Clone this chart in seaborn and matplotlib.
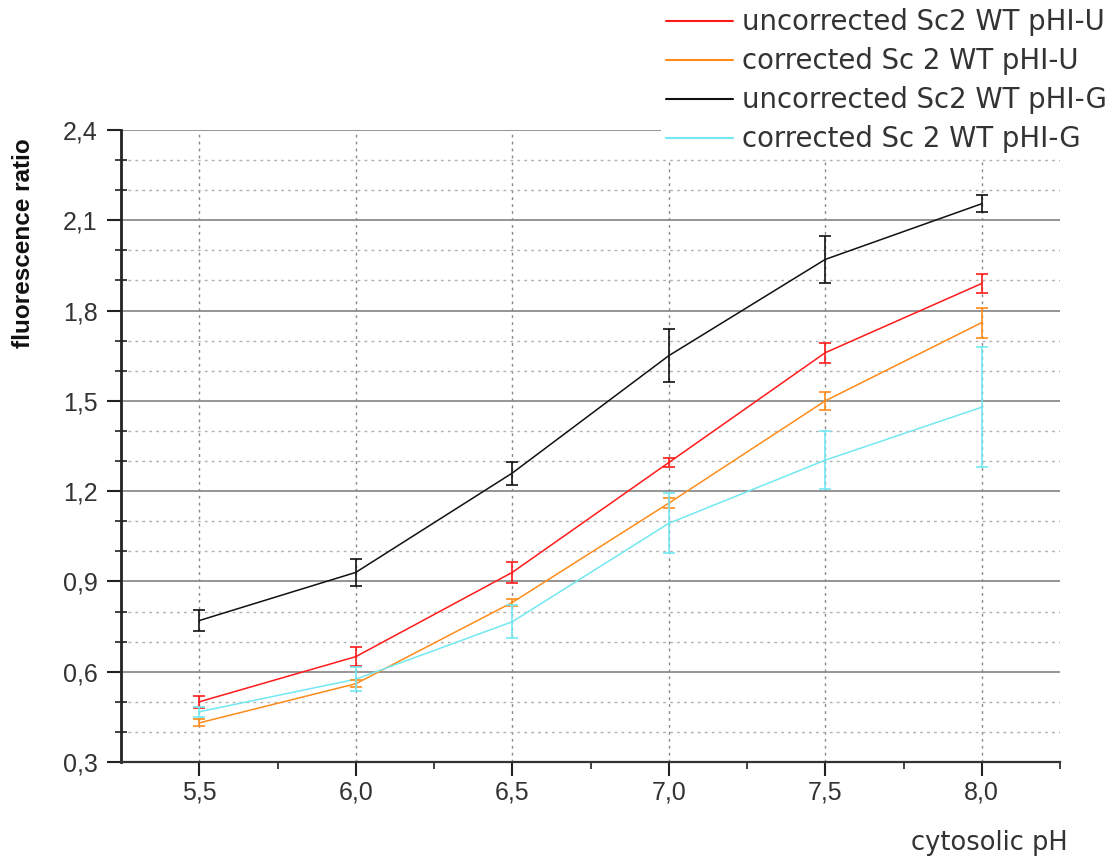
import numpy as np
import pandas as pd
import matplotlib
matplotlib.use("Agg")
import matplotlib.pyplot as plt
from matplotlib.ticker import MultipleLocator, FixedLocator, FuncFormatter
import seaborn as sns

# Calibration data: fluorescence ratio vs. cytosolic pH
ph = [5.5, 6.0, 6.5, 7.0, 7.5, 8.0]

uncorr_u = [0.50, 0.65, 0.93, 1.295, 1.66, 1.89]
uncorr_u_err = [0.020, 0.032, 0.034, 0.016, 0.033, 0.030]

corr_u = [0.43, 0.56, 0.83, 1.16, 1.50, 1.76]
corr_u_err = [0.012, 0.011, 0.011, 0.017, 0.030, 0.050]

uncorr_g = [0.77, 0.93, 1.26, 1.65, 1.97, 2.155]
uncorr_g_err = [0.034, 0.044, 0.038, 0.089, 0.078, 0.028]

corr_g = [0.467, 0.575, 0.766, 1.093, 1.303, 1.479]
corr_g_err = [0.017, 0.040, 0.055, 0.100, 0.097, 0.200]

labels = [
    "uncorrected Sc2 WT pHI-U",
    "corrected Sc 2 WT pHI-U",
    "uncorrected Sc2 WT pHI-G",
    "corrected Sc 2 WT pHI-G",
]
colors = ["#ff1a1a", "#ff8c1a", "#111111", "#72e8f2"]

series = [
    (uncorr_u, uncorr_u_err),
    (corr_u, corr_u_err),
    (uncorr_g, uncorr_g_err),
    (corr_g, corr_g_err),
]

frames = []
for lab, (vals, errs) in zip(labels, series):
    frames.append(pd.DataFrame({"pH": ph, "ratio": vals, "err": errs, "series": lab}))
df = pd.concat(frames, ignore_index=True)

sns.set_theme(style="white")
plt.rcParams["font.family"] = ["Liberation Sans", "DejaVu Sans"]

W, H = 1117, 859
fig = plt.figure(figsize=(W / 100, H / 100), dpi=100)
ax = fig.add_axes([121 / W, 1 - 762 / H, 939 / W, 632 / H])

sns.lineplot(data=df, x="pH", y="ratio", hue="series", hue_order=labels,
             palette=dict(zip(labels, colors)), linewidth=1.1, ax=ax,
             legend=False, zorder=3)

for lab, col in zip(labels, colors):
    sub = df[df["series"] == lab]
    ax.errorbar(sub["pH"], sub["ratio"], yerr=sub["err"], fmt="none",
                ecolor=col, elinewidth=1.2, capsize=4.5, capthick=1.2, zorder=3)

ax.set_xlim(5.25, 8.25)
ax.set_ylim(0.3, 2.4)

ax.xaxis.set_major_locator(FixedLocator(ph))
ax.xaxis.set_minor_locator(FixedLocator([5.75, 6.25, 6.75, 7.25, 7.75, 8.25]))
ax.yaxis.set_major_locator(MultipleLocator(0.3))
ax.yaxis.set_minor_locator(MultipleLocator(0.1))
comma = FuncFormatter(lambda v, p: f"{v:.1f}".replace(".", ","))
ax.xaxis.set_major_formatter(comma)
ax.yaxis.set_major_formatter(comma)

ax.grid(axis="y", which="major", color="#8c8c8c", linestyle="-", linewidth=1.3)
ax.grid(axis="y", which="minor", color="#b0b0b0", linestyle=(0, (2, 3)), linewidth=1.0)
ax.grid(axis="x", which="major", color="#888888", linestyle=(0, (2, 3)), linewidth=1.0)
ax.set_axisbelow(True)

for s in ["top", "right"]:
    ax.spines[s].set_visible(False)
ax.spines["left"].set_color("#222222")
ax.spines["left"].set_linewidth(2.0)
ax.spines["bottom"].set_color("#333333")
ax.spines["bottom"].set_linewidth(1.6)

ax.tick_params(axis="y", which="major", direction="out", length=10, width=1.5,
               color="#222222", labelsize=18, labelcolor="#333333", pad=7, left=True)
ax.tick_params(axis="y", which="minor", direction="inout", length=9, width=1.2,
               color="#222222", left=True)
ax.tick_params(axis="x", which="major", direction="out", length=10, width=1.5,
               color="#222222", labelsize=18, labelcolor="#333333", pad=3, bottom=True)
ax.tick_params(axis="x", which="minor", direction="out", length=5, width=1.2,
               color="#222222", bottom=True)

ax.set_xlabel("")
ax.set_ylabel("")
fig.text(24 / W, 1 - 243 / H, "fluorescence ratio", rotation=90, fontsize=17.5,
         fontweight="bold", color="#111111", ha="center", va="center")
fig.text(1068 / W, 1 - 850 / H, "cytosolic pH", fontsize=18.5, color="#333333",
         ha="right", va="baseline", family=["DejaVu Sans"])

handles = [plt.Line2D([], [], color=c, linewidth=1.5) for c in colors]
leg = fig.legend(handles, labels, loc="upper right", bbox_to_anchor=(0.998, 1.0),
                 frameon=True, facecolor="white", edgecolor="none", framealpha=1,
                 prop={"family": "DejaVu Sans", "size": 19.8},
                 handlelength=2.45, handletextpad=0.3,
                 labelspacing=0.4, borderpad=0.2, borderaxespad=0.1)
for t in leg.get_texts():
    t.set_color("#333333")

fig.savefig("out.png", dpi=100)
